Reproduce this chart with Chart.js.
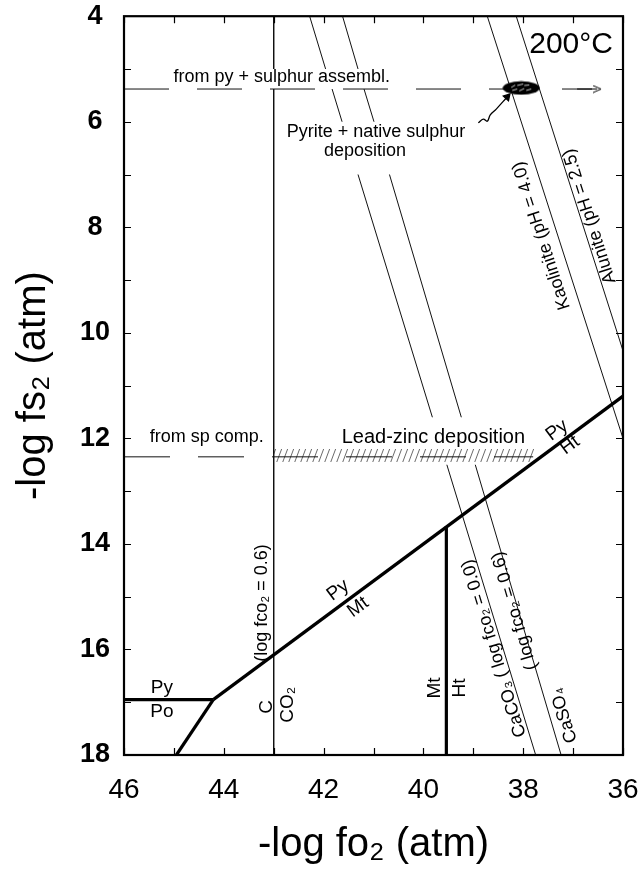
<!DOCTYPE html>
<html><head><meta charset="utf-8">
<script src="https://cdn.jsdelivr.net/npm/chart.js@4.4.1/dist/chart.umd.min.js"></script>
<style>html,body{margin:0;padding:0;background:#fff}#wrap{width:642px;height:873px}</style>
</head><body><div id="wrap"><canvas id="c" width="642" height="873"></canvas></div>
<script>
// ---------- values ----------
const xTickValues = [46, 44, 42, 40, 38, 36];
const yTickValues = [4, 6, 8, 10, 12, 14, 16, 18];

const pyPoX = [46, 44.21];          const pyPoY = [16.95, 16.95];
const poLowerX = [44.21, 44.95];    const poLowerY = [16.95, 18];
const pyMtHtX = [44.21, 36];        const pyMtHtY = [16.95, 11.2];
const mtHtX = [39.54, 39.54];       const mtHtY = [13.66, 18];
const cCo2X = [43, 43, null, 43, 43];
const cCo2Y = [4, 5.0, null, 5.38, 18];
const caco3X = [42.28, 41.96, null, 41.83, 41.63, null, 41.31, 39.82, null, 39.53, 37.75];
const caco3Y = [4, 5.0, null, 5.38, 6.0, null, 7.0, 11.6, null, 12.5, 18];
const caso4X = [41.62, 41.31, null, 41.19, 40.99, null, 40.68, 39.24, null, 38.96, 37.24];
const caso4Y = [4, 5.0, null, 5.38, 6.0, null, 7.0, 11.6, null, 12.5, 18];
const kaoliniteX = [38.72, 36];     const kaoliniteY = [4, 12.0];
const aluniteX = [38.14, 36];       const aluniteY = [4, 10.34];
const pySulphurX = [46, 36.62];     const pySulphurY = [5.38, 5.38];
const pySulphurArrowX = [36.92, 36.52]; const pySulphurArrowY = [5.38, 5.38];
const spCompX = [46, 37.8];         const spCompY = [12.35, 12.35];
const leadZincX = [43, 37.78];
const leadZincTopY = [12.2, 12.2];
const leadZincBottomY = [12.45, 12.45];
const pyriteSulphurX = [38.04];     const pyriteSulphurY = [5.36];
const pointerX = [38.9, 38.8, 38.72, 38.66, 38.54, 38.32];
const pointerY = [6.02, 5.95, 5.99, 5.87, 5.76, 5.53];

// text labels: [text, x, y, font size, rotation deg]
const textLabels = [
  ['200°C', 37.04, 4.55, 30, 0],
  ['from py + sulphur assembl.', 42.84, 5.15, 18, 0],
  ['Pyrite + native sulphur', 40.95, 6.19, 18, 0],
  ['deposition', 41.17, 6.55, 18, 0],
  ['from sp comp.', 44.34, 11.98, 18, 0],
  ['Lead-zinc deposition', 39.8, 11.98, 20, 0],
  ['Py', 37.32, 11.85, 19, -36.6],
  ['Ht', 37.06, 12.13, 19, -36.6],
  ['Py', 41.71, 14.88, 19, -36.6],
  ['Mt', 41.31, 15.2, 19, -36.6],
  ['Py', 45.24, 16.73, 19, 0],
  ['Po', 45.24, 17.19, 19, 0],
  ['C', 43.13, 17.09, 19, -90],
  ['CO₂', 42.71, 17.05, 19, -90],
  ['(log fco₂ = 0.6)', 43.23, 15.12, 18, -90],
  ['Mt', 39.77, 16.73, 19, -90],
  ['Ht', 39.27, 16.73, 19, -90],
  ['CaCO₃ ( log fco₂ = 0.0)', 38.58, 15.98, 18, -107],
  ['( log fco₂ = 0.6)', 38.17, 15.27, 18, -106.5],
  ['CaSO₄', 37.18, 17.25, 18, -106.5],
  ['Kaolinite (pH = 4.0)', 37.63, 8.16, 18, -107.8],
  ['Alunite (pH = 2.5)', 36.67, 7.79, 18, -107.7]
];

// ---------- helpers ----------
const FONT = '"Liberation Sans", Arial, Helvetica, sans-serif';
const zip = (xs, ys) => xs.map((v, i) => ({x: v, y: ys[i]}));

function makeBlob() {
  const c = document.createElement('canvas'); c.width = 38; c.height = 15;
  const g = c.getContext('2d');
  g.fillStyle = '#000'; g.beginPath(); g.ellipse(19, 7.5, 18.5, 6.8, 0, 0, Math.PI * 2); g.fill();
  g.strokeStyle = '#fff'; g.lineWidth = 0.8; g.beginPath();
  g.moveTo(9, 7); g.lineTo(13, 4.5); g.moveTo(15, 5); g.lineTo(21, 3.5);
  g.moveTo(22, 5); g.lineTo(27, 4.5); g.moveTo(10, 10); g.lineTo(15, 8.5);
  g.moveTo(17, 10.5); g.lineTo(22, 8); g.moveTo(24, 10); g.lineTo(29, 8.5);
  g.stroke();
  return c;
}
function makeChevron() {
  const c = document.createElement('canvas'); c.width = 10; c.height = 9;
  const g = c.getContext('2d');
  g.strokeStyle = '#000'; g.lineWidth = 1; g.beginPath();
  g.moveTo(1, 1); g.lineTo(9, 4.5); g.lineTo(1, 8); g.stroke();
  return c;
}

const hatchPattern = (() => {
  const c = document.createElement('canvas'); c.width = 6; c.height = 16;
  const g = c.getContext('2d');
  g.strokeStyle = '#444'; g.lineWidth = 0.8;
  g.beginPath();
  g.moveTo(0, 16); g.lineTo(6, 0);
  g.moveTo(-6, 16); g.lineTo(0, 0);
  g.moveTo(6, 16); g.lineTo(12, 0);
  g.stroke();
  return document.getElementById('c').getContext('2d').createPattern(c, 'repeat');
})();

const thin = {borderColor: '#111', borderWidth: 1, pointRadius: 0, showLine: true, fill: false};
const thick = {borderColor: '#000', borderWidth: 3.2, pointRadius: 0, showLine: true, fill: false};

const datasets = [
  {label: 'pyMtHt', data: zip(pyMtHtX, pyMtHtY), ...thick},
  {label: 'pyPo', data: zip(pyPoX, pyPoY), ...thick},
  {label: 'poLower', data: zip(poLowerX, poLowerY), ...thick},
  {label: 'mtHt', data: zip(mtHtX, mtHtY), ...thick},
  {label: 'pyriteSulphur', data: zip(pyriteSulphurX, pyriteSulphurY), showLine: false,
   pointStyle: makeBlob(), pointRadius: 10, pointHoverRadius: 10},
  {label: 'pointer', data: zip(pointerX, pointerY), borderColor: '#000', borderWidth: 1.3,
   showLine: true, tension: 0.4, pointStyle: 'triangle', pointRotation: 42,
   pointRadius: [0, 0, 0, 0, 0, 4], backgroundColor: '#000', pointBorderColor: '#000'},
  {label: 'pySulphurArrow', data: zip(pySulphurArrowX, pySulphurArrowY), borderColor: '#000',
   borderWidth: 1, showLine: true, pointStyle: makeChevron(), pointRadius: [0, 5]},
  {label: 'pySulphur', data: zip(pySulphurX, pySulphurY), ...thin, borderDash: [45, 28]},
  {label: 'spComp', data: zip(spCompX, spCompY), ...thin, borderDash: [46, 28]},
  {label: 'cCo2', data: zip(cCo2X, cCo2Y), ...thin},
  {label: 'caco3', data: zip(caco3X, caco3Y), ...thin},
  {label: 'caso4', data: zip(caso4X, caso4Y), ...thin},
  {label: 'kaolinite', data: zip(kaoliniteX, kaoliniteY), ...thin},
  {label: 'alunite', data: zip(aluniteX, aluniteY), ...thin},
  {label: 'leadZincTop', data: zip(leadZincX, leadZincTopY), showLine: true, borderWidth: 0,
   borderColor: 'rgba(0,0,0,0)', pointRadius: 0, fill: false},
  {label: 'leadZincBottom', data: zip(leadZincX, leadZincBottomY), showLine: true, borderWidth: 0,
   borderColor: 'rgba(0,0,0,0)', pointRadius: 0, fill: '-1', backgroundColor: hatchPattern}
];

const overlay = {
  id: 'overlay',
  afterDatasetsDraw(chart) {
    const {ctx, chartArea: a, scales: {x, y}} = chart;
    ctx.save();
    ctx.strokeStyle = '#000';
    ctx.lineWidth = 1.2;
    ctx.beginPath();
    for (let v = Math.ceil(x.min); v <= x.max; v++) {
      const p = Math.round(x.getPixelForValue(v)) + 0.5;
      ctx.moveTo(p, a.bottom); ctx.lineTo(p, a.bottom - 7);
      ctx.moveTo(p, a.top); ctx.lineTo(p, a.top + 7);
    }
    for (let v = Math.ceil(y.min); v <= y.max; v++) {
      const p = Math.round(y.getPixelForValue(v)) + 0.5;
      ctx.moveTo(a.left, p); ctx.lineTo(a.left + 7, p);
      ctx.moveTo(a.right, p); ctx.lineTo(a.right - 7, p);
    }
    ctx.stroke();
    ctx.lineWidth = 2.2;
    ctx.strokeRect(a.left, a.top, a.right - a.left, a.bottom - a.top);
    ctx.fillStyle = '#000';
    ctx.textAlign = 'center'; ctx.textBaseline = 'middle';
    for (const [t, lx, ly, size, rot] of textLabels) {
      ctx.save();
      ctx.translate(x.getPixelForValue(lx), y.getPixelForValue(ly));
      ctx.rotate(rot * Math.PI / 180);
      ctx.font = `${size}px ${FONT}`;
      ctx.fillText(t, 0, 0);
      ctx.restore();
    }
    ctx.restore();
  }
};

const hiddenTicks = len => ({display: true, drawOnChartArea: false, drawTicks: true,
                             tickLength: len, tickColor: 'rgba(0,0,0,0)'});

new Chart(document.getElementById('c'), {
  type: 'scatter',
  data: {datasets},
  options: {
    responsive: false,
    animation: false,
    events: [],
    layout: {padding: {top: 0, right: 19, left: 0, bottom: 0}},
    plugins: {legend: {display: false}, tooltip: {enabled: false}},
    scales: {
      x: {
        type: 'linear', min: 36, max: 46, reverse: true,
        afterBuildTicks: s => { s.ticks = xTickValues.map(v => ({value: v})); },
        afterFit: s => { s.height = 118; },
        grid: hiddenTicks(18),
        border: {display: false},
        ticks: {color: '#000', font: {family: FONT, size: 28}, padding: 0, maxRotation: 0, autoSkip: false},
        title: {display: true, text: '-log fo₂ (atm)', color: '#000',
                font: {family: FONT, size: 40}, padding: {top: 0, bottom: 4}}
      },
      y: {
        type: 'linear', min: 4, max: 18, reverse: true,
        afterBuildTicks: s => { s.ticks = yTickValues.map(v => ({value: v})); },
        afterFit: s => { s.width = 124; },
        grid: hiddenTicks(14),
        border: {display: false},
        ticks: {color: '#000', font: {family: FONT, size: 27, weight: 'bold'}, padding: 0,
                crossAlign: 'center', autoSkip: false},
        title: {display: true, text: '-log fs₂ (atm)', color: '#000',
                font: {family: FONT, size: 40}, padding: {top: 10, bottom: 0}}
      }
    }
  },
  plugins: [overlay]
});
</script>
</body></html>
